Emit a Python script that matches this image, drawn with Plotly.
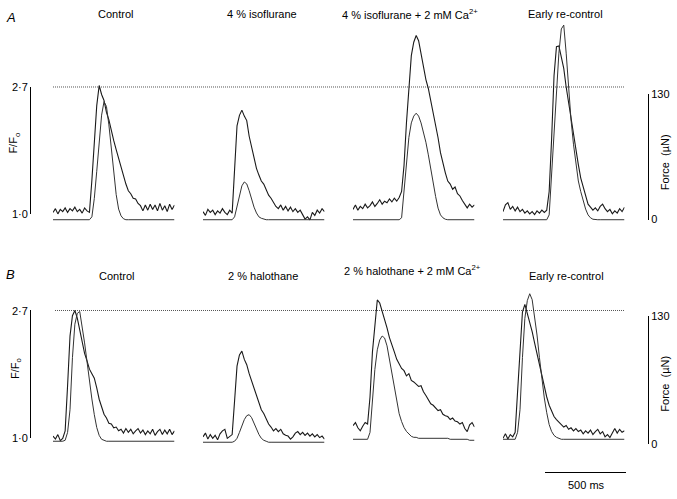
import plotly.graph_objects as go

# ---------------- data ----------------
t_ms = list(range(0, 751, 15))  # sample times within each 750 ms sweep

titles_A = ["Control", "4 % isoflurane", "4 % isoflurane + 2 mM Ca<sup>2+</sup>", "Early re-control"]
titles_B = ["Control", "2 % halothane", "2 % halothane + 2 mM Ca<sup>2+</sup>", "Early re-control"]

# Panel A  (F/F0, force in uN)
fluo_A_control = [1.02, 1.07, 1.00, 1.06, 1.03, 1.08, 1.02, 1.07, 1.04, 1.09, 1.03, 1.06, 1.01, 1.08, 1.04, 1.02,
                  1.45, 1.95, 2.45, 2.72, 2.60, 2.52, 2.36, 2.26, 2.10, 1.98, 1.86, 1.74, 1.64, 1.52, 1.40, 1.31,
                  1.27, 1.21, 1.20, 1.14, 1.11, 1.04, 1.12, 1.05, 1.13, 1.06, 1.12, 1.04, 1.14, 1.05, 1.11, 1.03,
                  1.13, 1.06, 1.12]
force_A_control = [0] * 16 + [3, 22, 50, 82, 108, 122, 117, 98, 74, 48, 26, 11, 4, 1] + [0] * 21

fluo_A_iso = [1.03, 0.98, 1.06, 1.02, 1.05, 0.99, 1.04, 1.01, 1.07, 1.02, 0.99, 1.05, 1.01, 1.65, 2.18, 2.32,
              2.39, 2.31, 2.25, 2.04, 1.88, 1.74, 1.61, 1.52, 1.44, 1.40, 1.32, 1.25, 1.21, 1.15, 1.10, 1.07,
              1.12, 1.05, 1.10, 1.04, 1.09, 1.03, 1.07, 1.02, 1.05, 0.99, 0.93, 0.96, 0.92, 1.02, 0.98, 1.05,
              1.01, 1.07, 1.03]
force_A_iso = [0] * 13 + [3, 13, 26, 35, 39, 37, 30, 21, 13, 7, 3, 1.5, 0.5] + [0] * 25

fluo_A_iso_ca = [1.06, 1.12, 1.05, 1.10, 1.07, 1.13, 1.08, 1.11, 1.16, 1.10, 1.14, 1.19, 1.13, 1.17, 1.15, 1.20,
                 1.16, 1.21, 1.17, 1.22, 1.30, 1.65, 2.22, 2.75, 3.12, 3.30, 3.39, 3.32, 3.14, 2.93, 2.80, 2.68,
                 2.52, 2.36, 2.18, 2.02, 1.82, 1.66, 1.55, 1.44, 1.40, 1.33, 1.36, 1.27, 1.24, 1.18, 1.12, 1.08,
                 1.13, 1.09, 1.12]
force_A_iso_ca = [0] * 20 + [2, 30, 62, 85, 100, 107, 110, 107, 100, 91, 80, 67, 52, 38, 24, 12, 5, 2, 0.5] + [0] * 12

fluo_A_recontrol = [1.03, 1.12, 1.15, 1.06, 1.10, 1.04, 1.09, 1.03, 1.06, 1.01, 1.04, 1.00, 1.03, 0.99, 1.04, 1.01,
                    1.05, 1.02, 1.05, 1.30, 2.00, 2.85, 3.24, 3.25, 3.10, 2.95, 2.70, 2.48, 2.26, 2.08, 1.86, 1.66,
                    1.48, 1.35, 1.22, 1.13, 1.09, 1.05, 1.08, 1.04, 1.10, 1.13, 1.07, 1.03, 1.06, 1.00, 1.04, 1.01,
                    1.07, 1.03, 1.09]
force_A_recontrol = [0] * 19 + [5, 45, 90, 135, 172, 197, 201, 172, 134, 103, 78, 57, 40, 29, 19, 11, 5, 2, 0.5] + [0] * 13

# Panel B
fluo_B_control = [1.03, 0.99, 1.05, 0.97, 1.00, 1.10, 1.70, 2.36, 2.63, 2.70, 2.60, 2.44, 2.27, 2.13, 2.03, 1.92,
                  1.86, 1.80, 1.67, 1.52, 1.42, 1.32, 1.27, 1.20, 1.19, 1.14, 1.15, 1.10, 1.12, 1.07, 1.13, 1.08,
                  1.12, 1.06, 1.10, 1.13, 1.07, 1.11, 1.05, 1.10, 1.06, 1.12, 1.04, 1.09, 1.12, 1.05, 1.11, 1.06,
                  1.12, 1.05, 1.10]
force_B_control = [3, 3, 3, 3, 3, 4, 12, 35, 88, 122, 133, 135, 121, 103, 84, 63, 46, 30, 17, 9, 5, 4] + [3] * 29

fluo_B_halo = [1.02, 1.07, 0.99, 1.05, 1.00, 1.04, 0.98, 1.06, 1.10, 1.12, 1.00, 1.03, 1.05, 1.50, 1.96, 2.11,
               2.16, 2.05, 1.98, 1.86, 1.76, 1.67, 1.57, 1.48, 1.38, 1.33, 1.25, 1.19, 1.15, 1.10, 1.13, 1.09,
               1.12, 1.06, 1.04, 1.03, 0.99, 1.02, 1.07, 1.09, 1.05, 1.08, 1.04, 1.07, 1.03, 1.06, 1.02, 1.05,
               1.01, 1.03, 0.99]
force_B_halo = [2] * 13 + [3, 6, 12, 19, 25, 29, 30, 27, 21, 15, 10, 6, 4, 3] + [2] * 24

fluo_B_halo_ca = [1.17, 1.21, 1.14, 1.10, 1.16, 1.21, 1.19, 1.55, 2.15, 2.55, 2.84, 2.80, 2.70, 2.60, 2.47, 2.34,
                  2.23, 2.15, 2.05, 1.99, 1.93, 1.90, 1.83, 1.86, 1.77, 1.75, 1.72, 1.69, 1.70, 1.62, 1.57, 1.52,
                  1.46, 1.44, 1.40, 1.37, 1.38, 1.32, 1.30, 1.29, 1.25, 1.27, 1.23, 1.22, 1.19, 1.21, 1.13, 1.09,
                  1.18, 1.21, 1.15]
force_B_halo_ca = [5] * 7 + [12, 45, 76, 96, 106, 110, 108, 100, 86, 70, 55, 42, 31, 23, 17, 13, 10, 8, 7, 7] + \
                  [6] * 13 + [5] * 8 + [4] * 3

fluo_B_recontrol = [1.00, 1.06, 0.99, 1.05, 1.02, 1.08, 1.62, 2.22, 2.68, 2.78, 2.66, 2.56, 2.42, 2.27, 2.12, 1.97,
                    1.81, 1.68, 1.55, 1.44, 1.36, 1.29, 1.25, 1.22, 1.18, 1.15, 1.17, 1.12, 1.14, 1.10, 1.13, 1.09,
                    1.11, 1.06, 1.10, 1.07, 1.11, 1.05, 1.09, 1.12, 1.06, 1.09, 1.02, 1.05, 1.01, 1.08, 1.13, 1.07,
                    1.12, 1.08, 1.10]
force_B_recontrol = [5] * 6 + [12, 35, 88, 128, 146, 153, 147, 131, 111, 88, 66, 47, 32, 20, 13, 9, 7, 6] + [5] * 27

fluo_A = [fluo_A_control, fluo_A_iso, fluo_A_iso_ca, fluo_A_recontrol]
force_A = [force_A_control, force_A_iso, force_A_iso_ca, force_A_recontrol]
fluo_B = [fluo_B_control, fluo_B_halo, fluo_B_halo_ca, fluo_B_recontrol]
force_B = [force_B_control, force_B_halo, force_B_halo_ca, force_B_recontrol]

ratio_ticks = [1.0, 2.7]
ratio_ticktext = ["1·0", "2·7"]
force_ticks = [0, 130]
force_ticktext = ["0", "130"]
reference_ratio = 2.7
scale_bar_ms = 500

# ---------------- layout geometry (pixels) ----------------
W, H = 677, 499
FONT = "Liberation Sans, Arial, Helvetica, sans-serif"
LINE = "#1a1a1a"


def px(x):
    return x / W


def py(y):
    return 1 - y / H


def val_range(v0, p0, v1, p1, top, bottom):
    k = (v1 - v0) / (p0 - p1)
    return [v0 + (p0 - bottom) * k, v0 + (p0 - top) * k]


col_left = [53, 203, 353, 503]
sweep_px = 121.5
rows = {
    "A": dict(top=15, bottom=228, f1=213, f27=83, z0=219, z130=90),
    "B": dict(top=250, bottom=458, f1=443, f27=312, z0=449, z130=318),
}

fig = go.Figure()

for r, (fl, fo) in zip(["A", "B"], [(fluo_A, force_A), (fluo_B, force_B)]):
    ya = "y" if r == "A" else "y3"
    yb = "y2" if r == "A" else "y4"
    for i in range(4):
        xa = "x" if i == 0 else f"x{i+1}"
        fig.add_trace(go.Scatter(x=t_ms, y=fo[i], xaxis=xa, yaxis=yb, mode="lines",
                                 line=dict(color="#333333", width=1), showlegend=False, hoverinfo="skip"))
        fig.add_trace(go.Scatter(x=t_ms, y=fl[i], xaxis=xa, yaxis=ya, mode="lines",
                                 line=dict(color=LINE, width=1.1), showlegend=False, hoverinfo="skip"))

for yname in ["y5", "y6", "y7", "y8"]:
    fig.add_trace(go.Scatter(x=[None], y=[None], xaxis="x", yaxis=yname, showlegend=False, hoverinfo="skip"))
fig.add_trace(go.Scatter(x=[None], y=[None], xaxis="x5", yaxis="y", showlegend=False, hoverinfo="skip"))

layout = dict(
    width=W, height=H, margin=dict(l=0, r=0, t=0, b=0),
    paper_bgcolor="white", plot_bgcolor="rgba(0,0,0,0)",
    font=dict(family=FONT, size=11, color="black"),
    showlegend=False,
)

for i, L in enumerate(col_left):
    key = "xaxis" if i == 0 else f"xaxis{i+1}"
    layout[key] = dict(domain=[px(L), px(L + sweep_px)], range=[0, 750], visible=False, fixedrange=True)

for r, yk_f, yk_z in [("A", "yaxis", "yaxis2"), ("B", "yaxis3", "yaxis4")]:
    g = rows[r]
    dom = [py(g["bottom"]), py(g["top"])]
    layout[yk_f] = dict(domain=dom, range=val_range(1.0, g["f1"], 2.7, g["f27"], g["top"], g["bottom"]),
                        visible=False, anchor="x", fixedrange=True)
    layout[yk_z] = dict(domain=dom, range=val_range(0, g["z0"], 130, g["z130"], g["top"], g["bottom"]),
                        visible=False, anchor="x", fixedrange=True)

common_disp = dict(showline=True, linecolor="black", linewidth=1, ticks="inside", ticklen=4,
                   tickcolor="black", tickwidth=1, showgrid=False, zeroline=False, anchor="free",
                   tickfont=dict(family=FONT, size=11, color="black"), fixedrange=True)
eps_r, eps_f, eps_t = 0.002, 0.15, 0.5
for r, yk_f, yk_z in [("A", "yaxis5", "yaxis6"), ("B", "yaxis7", "yaxis8")]:
    g = rows[r]
    layout[yk_f] = dict(common_disp, domain=[py(g["f1"]), py(g["f27"])], range=[1.0 - eps_r, 2.7 + eps_r],
                        tickvals=ratio_ticks, ticktext=ratio_ticktext, position=px(30), side="left")
    layout[yk_z] = dict(common_disp, domain=[py(g["z0"]), py(g["z130"])], range=[0 - eps_f, 130 + eps_f],
                        tickvals=force_ticks, ticktext=force_ticktext, position=px(648), side="right")

bar_px = scale_bar_ms * sweep_px / 750
layout["xaxis5"] = dict(common_disp, domain=[px(545), px(545 + bar_px)], range=[-eps_t, scale_bar_ms + eps_t],
                        tickvals=[0, scale_bar_ms], showticklabels=False, position=py(477), ticklen=6)

shapes = []
for yref, x0, x1 in [("y", 53, 625), ("y3", 55, 625)]:
    shapes.append(dict(type="line", xref="paper", yref=yref, x0=px(x0), x1=px(x1),
                       y0=reference_ratio, y1=reference_ratio,
                       line=dict(color="#555555", width=1, dash="1px,1px"), layer="below"))
layout["shapes"] = shapes

ann = []


def text(x, y, s, size=11, angle=0, italic=False):
    ann.append(dict(x=px(x), y=py(y), xref="paper", yref="paper", text=s, showarrow=False,
                    xanchor="center", yanchor="middle", textangle=angle,
                    font=dict(family=FONT, size=size, color="black", style="italic" if italic else "normal")))


text(11, 12, "A", size=13, italic=True)
text(11, 275, "B", size=13, italic=True)
for s, x, y in zip(titles_A, [115, 262, 410, 565], [8, 8, 8, 8]):
    text(x, y, s)
for s, x, y in zip(titles_B, [116, 263, 412, 566], [277, 277, 271, 277]):
    text(x, y, s)
text(14, 141, "F/F<sub>o</sub>", angle=-90)
text(16, 372, "F/F<sub>o</sub>", angle=-90)
text(665, 160, "Force\u00a0\u00a0(µN)", angle=-90)
text(665, 387, "Force\u00a0\u00a0(µN)", angle=-90)
text(586, 491, "500 ms")
layout["annotations"] = ann

fig.update_layout(**layout)
fig.write_html("out.html", config={"displayModeBar": False, "staticPlot": True},
               post_script="document.body.style.margin='0';document.body.style.overflow='hidden';")
